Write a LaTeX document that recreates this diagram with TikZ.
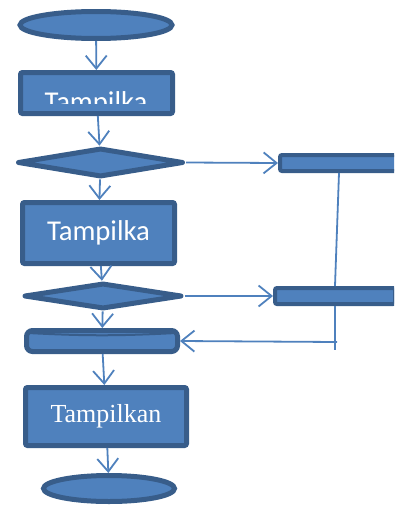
\documentclass[tikz,border=0pt]{standalone}
\usepackage{fontspec}
\setmainfont{Carlito}
\newfontfamily\serifface{Liberation Serif}
\usepackage{tikz}
\usetikzlibrary{positioning,calc}
\usetikzlibrary{arrows.meta,shapes.geometric}
\definecolor{FlowFill}{RGB}{79,129,189}
\definecolor{FlowEdge}{RGB}{56,93,138}
\tikzset{
  blk/.style={draw=FlowEdge,fill=FlowFill,line width=5pt,inner sep=0pt},
  term/.style={blk,ellipse},
  proc/.style={blk,rectangle,rounded corners=2pt,text=white,font=\fontsize{28.7}{30}\selectfont},
  decide/.style={blk,diamond,line join=round},
  disk/.style={blk,rectangle,rounded corners=6pt},
  bar/.style={blk,rectangle,rounded corners=2pt,line width=4pt},
  flow/.style={draw=FlowFill,line width=1.8pt,-{Straight Barb[length=13pt,width=21pt,line width=1.8pt]}},
  link/.style={draw=FlowFill,line width=1.8pt},
  rim/.style={draw=FlowEdge,line width=2pt},
}

\begin{document}
\begin{tikzpicture}[x=1pt,y=-1pt]
\clip (0,0) rectangle (394,506);
\node[term,minimum width=152pt,minimum height=27pt] (start) at (96,25) {};
\node[proc,minimum width=152pt,minimum height=41pt] (show1) at (96.5,93) {};
\begin{scope}
\clip (22,74) rectangle (171,103);
\node[text=white,font=\fontsize{28.7}{30}\selectfont,anchor=base,inner sep=0pt] (show1txt) at (96,111) {Tampilka};
\end{scope}
\node[decide,minimum width=166pt,minimum height=29pt] (dec1) at (100.5,162.5) {};
\node[proc,minimum width=152pt,minimum height=61pt] (show2) at (98.5,233) {Tampilka};
\node[decide,minimum width=158pt,minimum height=26pt] (dec2) at (103,296) {};
\node[disk,minimum width=151pt,minimum height=21pt] (db) at (102,341) {};
\draw[rim] ($(db.north west)+(4,5)$) to[bend right=3] ($(db.north east)+(-4,5)$);
\node[proc,font=\serifface\fontsize{26}{28}\selectfont,minimum width=161pt,minimum height=58pt] (show3) at (106,416.5) {Tampilkan};
\node[term,minimum width=131pt,minimum height=26pt] (stop) at (109,488.5) {};
\node[bar,minimum width=118pt,minimum height=16pt] (bar1) at (339,163) {};
\node[bar,minimum width=120pt,minimum height=16pt] (bar2) at (335,296) {};
\coordinate (tail) at (335,350);
\coordinate (back) at (337,342);
% main line
\draw[flow] (start) -- (show1);
\draw[flow] (show1) -- (dec1);
\draw[flow] (dec1) -- (show2);
\draw[flow] (show2) -- (dec2);
\draw[flow] (dec2) -- (db);
\draw[flow] (db) -- (show3);
\draw[flow] (show3) -- (stop);
% side branch
\draw[flow] (dec1.east) -- (bar1.west);
\draw[flow] (dec2.east) -- (bar2.west);
\draw[link] (bar1.south) -- (bar2.north);
\draw[link] (bar2.south) -- (tail);
\draw[flow] (back) -- (db.east);
\end{tikzpicture}
\end{document}
